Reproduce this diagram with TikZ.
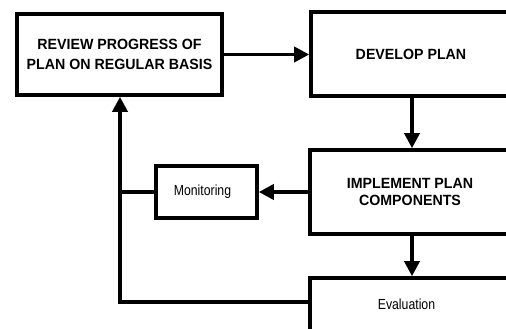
\documentclass[tikz,border=0pt]{standalone}
\usepackage{fontspec}
\setmainfont{Liberation Sans}
\newfontfamily\boxbold[FakeStretch=0.96]{Liberation Sans Bold}
\newfontfamily\boxplain[FakeStretch=0.84]{Liberation Sans}
\usetikzlibrary{arrows.meta}
\begin{document}
\begin{tikzpicture}[x=1pt,y=-1pt,
  box/.style={draw, line width=3.6pt, line join=miter, fill=white,
    rectangle, inner sep=0pt, align=center},
  bigtext/.style={font=\fontsize{14.8}{20.5}\boxbold},
  smalltext/.style={font=\fontsize{14.6}{16}\boxplain},
  link/.style={line width=3.6pt},
  arr/.style={link, -{Triangle[length=15pt,width=15pt]}}]
\useasboundingbox (0,0) rectangle (506,329);
\clip (0,0) rectangle (506,329);
\fill[white] (0,0) rectangle (506,329);

% boxes
\node[box, bigtext, minimum width=205pt, minimum height=81pt]
  (review) at (119.5,54.5) {REVIEW PROGRESS OF\\PLAN ON REGULAR BASIS};
\node[box, bigtext, minimum width=200pt, minimum height=84pt]
  (develop) at (411,54) {DEVELOP PLAN};
\node[box, font=\fontsize{14.8}{17}\boxbold,
  minimum width=200pt, minimum height=84pt]
  (implement) at (410,192) {IMPLEMENT PLAN\\COMPONENTS};
\node[box, minimum width=101pt, minimum height=52.5pt]
  (monitor) at (206.5,192) {};
\node[smalltext] (montext) at (202.5,192) {Monitoring};
\node[box, minimum width=200pt, minimum height=64pt]
  (eval) at (410,310) {};
\node[smalltext] (evaltext) at (406.5,304) {Evaluation};

% connectors
\coordinate (corner) at (120,302);
\draw[arr] (review.east) -- (review.east -| develop.west);
\draw[arr] (develop.south -| 412,0) -- (implement.north -| 412,0);
\draw[arr] (implement.west) -- (monitor.east);
\draw[arr] (implement.south -| 412,0) -- (eval.north -| 412,0);
\draw[link] (monitor.west) -- (monitor.west -| corner);
\draw[arr] (corner -| eval.west) -- (corner) -- (corner |- review.south);
\end{tikzpicture}
\end{document}
